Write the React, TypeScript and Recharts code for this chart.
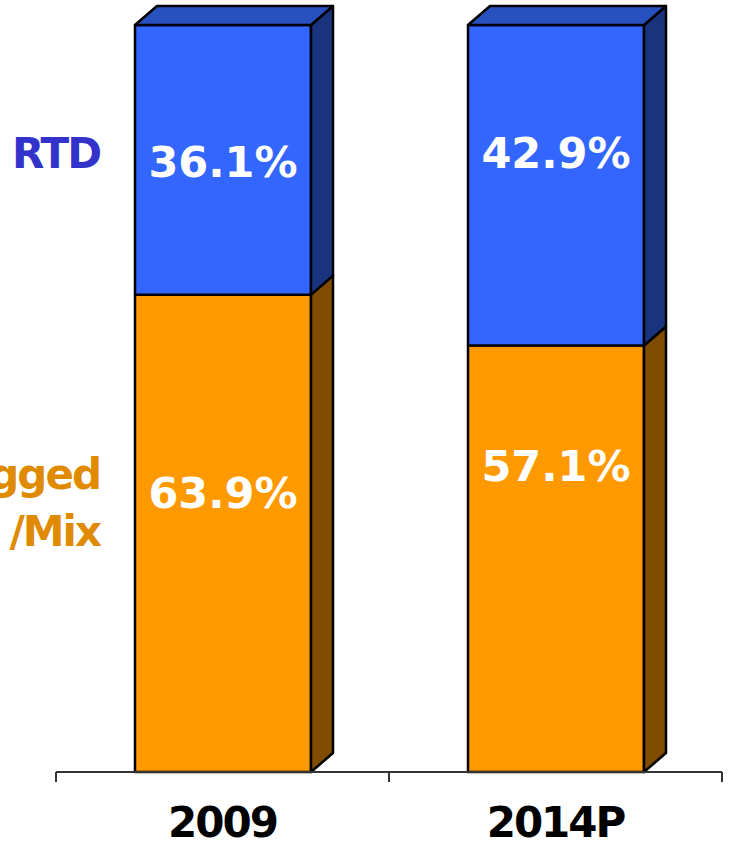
import React from "react";
import { BarChart, Bar, XAxis, YAxis, LabelList } from "recharts";

// Category and series values (share of volume, %)
const categories = ["2009", "2014P"];
const baggedShare = [63.9, 57.1];
const rtdShare = [36.1, 42.9];

// Series names shown beside the first column
const baggedName = ["Bagged", "/Mix"];
const rtdName = ["RTD"];

const data = categories.map((year, i) => ({
  year,
  bagged: baggedShare[i],
  rtd: rtdShare[i],
}));

// Extrusion of the pseudo-3D columns
const DEPTH_X = 22;
const DEPTH_Y = 19;
const EDGE = "#000";
const EDGE_W = 2.5;
const FONT = "'DejaVu Sans', Verdana, sans-serif";

const PALETTE = {
  rtd: { front: "#3366FF", top: "#2851C0", side: "#1A337F", name: "#3333CC" },
  bagged: { front: "#FF9900", top: "#C07300", side: "#7F4C00", name: "#E08A00" },
};

// Baseline of each value label, measured from the top of its segment
const VALUE_DY = { rtd: [152, 143], bagged: [213, 136] };
// Baselines of the series-name lines, measured from the top of the first column's segment
const NAME_DY = { rtd: [143], bagged: [194, 251] };
const NAME_GAP = 35;

type Colors = { front: string; top: string; side: string; name: string };

const columnShape = (c: Colors, withTop: boolean) => (props: any) => {
  const { x, y, width: w, height: h } = props;
  if (w == null || h == null) return <g />;
  const side = `${x + w},${y} ${x + w + DEPTH_X},${y - DEPTH_Y} ${x + w + DEPTH_X},${y + h - DEPTH_Y} ${x + w},${y + h}`;
  const top = `${x},${y} ${x + DEPTH_X},${y - DEPTH_Y} ${x + w + DEPTH_X},${y - DEPTH_Y} ${x + w},${y}`;
  return (
    <g stroke={EDGE} strokeWidth={EDGE_W} strokeLinejoin="round">
      <rect x={x} y={y} width={w} height={h} fill={c.front} />
      <polygon points={side} fill={c.side} />
      {withTop && <polygon points={top} fill={c.top} />}
    </g>
  );
};

const segmentLabel =
  (valueDy: number[], nameLines: string[], nameDy: number[], nameColor: string) =>
  (props: any) => {
    const { x, y, width, value, index } = props;
    const v = Array.isArray(value) ? value[1] - value[0] : Number(value);
    return (
      <g>
        <text
          x={x + width / 2}
          y={y + valueDy[index]}
          textAnchor="middle"
          fill="#FFFFFF"
          fontFamily={FONT}
          fontWeight="bold"
          fontSize={43}
        >
          {`${v.toFixed(1)}%`}
        </text>
        {index === 0 &&
          nameLines.map((line, k) => (
            <text
              key={k}
              x={x - NAME_GAP}
              y={y + nameDy[k]}
              textAnchor="end"
              fill={nameColor}
              fontFamily={FONT}
              fontWeight="bold"
              fontSize={42}
              letterSpacing={-2}
            >
              {line}
            </text>
          ))}
      </g>
    );
  };

const CategoryTick = (props: any) => {
  const { x, y, payload, width, visibleTicksCount } = props;
  const half =
    payload && payload.offset > 0 ? payload.offset : width / (visibleTicksCount || 1) / 2;
  return (
    <g>
      <line x1={x - half} y1={y} x2={x - half} y2={y + 10} stroke="#333" strokeWidth={2} />
      <line x1={x + half} y1={y} x2={x + half} y2={y + 10} stroke="#333" strokeWidth={2} />
      <text
        x={x}
        y={y + 65}
        textAnchor="middle"
        fill="#000"
        fontFamily={FONT}
        fontWeight="bold"
        fontSize={42}
        letterSpacing={-2}
      >
        {payload.value}
      </text>
    </g>
  );
};

export default function App() {
  return (
    <div style={{ position: "absolute", left: 0, top: 0, width: 730, height: 843, background: "#fff" }}>
      <BarChart
        width={730}
        height={843}
        data={data}
        margin={{ top: 25, right: 8, bottom: 0, left: 56 }}
        barSize={176}
      >
        <XAxis
          dataKey="year"
          height={71}
          tickLine={false}
          tickSize={0}
          tickMargin={0}
          axisLine={{ stroke: "#333", strokeWidth: 2 }}
          tick={<CategoryTick />}
          interval={0}
        />
        <YAxis hide domain={[0, 100]} />
        <Bar
          dataKey="bagged"
          stackId="share"
          isAnimationActive={false}
          shape={columnShape(PALETTE.bagged, false)}
        >
          <LabelList
            dataKey="bagged"
            content={segmentLabel(VALUE_DY.bagged, baggedName, NAME_DY.bagged, PALETTE.bagged.name)}
          />
        </Bar>
        <Bar
          dataKey="rtd"
          stackId="share"
          isAnimationActive={false}
          shape={columnShape(PALETTE.rtd, true)}
        >
          <LabelList
            dataKey="rtd"
            content={segmentLabel(VALUE_DY.rtd, rtdName, NAME_DY.rtd, PALETTE.rtd.name)}
          />
        </Bar>
      </BarChart>
    </div>
  );
}
